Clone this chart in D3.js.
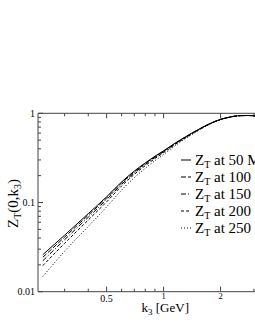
<!DOCTYPE html>
<html>
<head>
<meta charset="utf-8">
<script src="https://cdn.jsdelivr.net/npm/d3@7"></script>
<style>
  body { margin: 0; background: #fff; }
  svg { display: block; font-family: "Liberation Serif", "Times New Roman", serif; }
</style>
</head>
<body>
<script>
// momentum values (GeV)
const k3 = [0.23, 0.3, 0.4, 0.5, 0.6, 0.7, 0.8, 0.9, 1.0, 1.2, 1.4, 1.6, 1.8, 2.0, 2.2, 2.5, 2.8, 3.2];

// Z_T(0,k3) at different temperatures
const z50  = [0.026, 0.043, 0.075, 0.116, 0.170, 0.225, 0.278, 0.330, 0.380, 0.490, 0.595, 0.695, 0.785, 0.855, 0.900, 0.940, 0.945, 0.925];
const z100 = [0.0243, 0.0409, 0.0721, 0.1124, 0.1658, 0.2205, 0.2733, 0.3254, 0.3758, 0.4866, 0.592, 0.693, 0.784, 0.855, 0.900, 0.940, 0.945, 0.925];
const z150 = [0.0222, 0.0383, 0.0684, 0.1078, 0.160, 0.2147, 0.2674, 0.3194, 0.370, 0.4817, 0.588, 0.690, 0.782, 0.853, 0.899, 0.940, 0.945, 0.925];
const z200 = [0.0196, 0.0349, 0.0637, 0.1017, 0.153, 0.2068, 0.259, 0.311, 0.3625, 0.475, 0.583, 0.686, 0.779, 0.852, 0.898, 0.939, 0.944, 0.925];
const z250 = [0.0148, 0.0284, 0.054, 0.0893, 0.1377, 0.190, 0.242, 0.294, 0.346, 0.461, 0.571, 0.678, 0.773, 0.848, 0.896, 0.938, 0.944, 0.925];

const temps = ["50 MeV", "100 MeV", "150 MeV", "200 MeV", "250 MeV"];
const dashes = [null, "5,2", "5,2,1,2", "3,2", "1,2"];
const xMajor = [0.5, 1, 2];
const xMinor = [0.3, 0.4, 0.6, 0.7, 0.8, 0.9, 3];
const yMajor = [0.01, 0.1, 1];

const series = [z50, z100, z150, z200, z250].map((vals, i) => ({
    name: temps[i],
    dash: dashes[i],
    points: k3.map((k, j) => ({ k, z: vals[j] }))
}));

const width = 255, height = 330;
const plotLeft = 38, plotTop = 113.3, plotBottom = 291.7;

const x = d3.scaleLog().domain([0.217, 3.5]).range([plotLeft, plotLeft + Math.log10(3.5 / 0.217) * 189.3]);
const y = d3.scaleLog().domain([0.01, 1]).range([plotBottom, plotTop]);

const svg = d3.select("body").append("svg")
    .attr("width", width)
    .attr("height", height);

const axisColor = "#444";

// y minor ticks (2..9 in each decade)
const yMinor = [];
[0.01, 0.1].forEach(d => { for (let m = 2; m <= 9; m++) yMinor.push(d * m); });

const frame = svg.append("g").attr("stroke", axisColor).attr("stroke-width", 1);
frame.append("line").attr("x1", plotLeft).attr("x2", width).attr("y1", plotTop).attr("y2", plotTop);
frame.append("line").attr("x1", plotLeft).attr("x2", width).attr("y1", plotBottom).attr("y2", plotBottom);
frame.append("line").attr("x1", plotLeft).attr("x2", plotLeft).attr("y1", plotTop).attr("y2", plotBottom);

// x ticks, bottom and top, pointing inward
frame.selectAll(".xmaj").data(xMajor).join("g").each(function(d) {
    const g = d3.select(this);
    g.append("line").attr("x1", x(d)).attr("x2", x(d)).attr("y1", plotBottom).attr("y2", plotBottom - 5);
    g.append("line").attr("x1", x(d)).attr("x2", x(d)).attr("y1", plotTop).attr("y2", plotTop + 5);
});
frame.selectAll(".xmin").data(xMinor).join("g").each(function(d) {
    const g = d3.select(this);
    g.append("line").attr("x1", x(d)).attr("x2", x(d)).attr("y1", plotBottom).attr("y2", plotBottom - 3);
    g.append("line").attr("x1", x(d)).attr("x2", x(d)).attr("y1", plotTop).attr("y2", plotTop + 3);
});

// y ticks
frame.selectAll(".ymaj").data(yMajor).join("line")
    .attr("x1", plotLeft).attr("x2", plotLeft + 5)
    .attr("y1", d => y(d)).attr("y2", d => y(d));
frame.selectAll(".ymin").data(yMinor).join("line")
    .attr("x1", plotLeft).attr("x2", plotLeft + 3)
    .attr("y1", d => y(d)).attr("y2", d => y(d));

// tick labels
svg.append("g").selectAll("text").data(xMajor).join("text")
    .attr("x", d => x(d))
    .attr("y", d => d < 1 ? plotBottom + 10 : plotBottom + 7.5)
    .attr("text-anchor", "middle")
    .attr("font-size", d => d < 1 ? 10 : 8.5)
    .text(d => d);

svg.append("g").selectAll("text").data(yMajor).join("text")
    .attr("x", plotLeft - 3).attr("y", d => y(d) + 3.5)
    .attr("text-anchor", "end")
    .attr("font-size", 10)
    .text(d => d);

// axis titles
const xt = svg.append("text")
    .attr("x", x(1.02)).attr("y", plotBottom + 20.5)
    .attr("text-anchor", "middle")
    .attr("font-size", 13);
xt.append("tspan").text("k");
xt.append("tspan").attr("font-size", 9).attr("dy", 3).text("3");
xt.append("tspan").attr("dy", -3).text(" [GeV]");

const yt = svg.append("text")
    .attr("transform", `translate(18,${y(0.1) + 1}) rotate(-90)`)
    .attr("text-anchor", "middle")
    .attr("font-size", 15);
yt.append("tspan").text("Z");
yt.append("tspan").attr("font-size", 10).attr("dy", 3).text("T");
yt.append("tspan").attr("dy", -3).text("(0,k");
yt.append("tspan").attr("font-size", 10).attr("dy", 3).text("3");
yt.append("tspan").attr("dy", -3).text(")");

// curves
svg.append("defs").append("clipPath").attr("id", "plot")
    .append("rect").attr("x", plotLeft).attr("y", plotTop).attr("width", width - plotLeft).attr("height", plotBottom - plotTop);

const line = d3.line()
    .x(d => x(d.k))
    .y(d => y(d.z))
    .curve(d3.curveMonotoneX);

svg.append("g").attr("clip-path", "url(#plot)")
    .selectAll("path").data(series).join("path")
    .attr("fill", "none")
    .attr("stroke", "#000")
    .attr("stroke-width", 1)
    .attr("stroke-dasharray", d => d.dash)
    .attr("d", d => line(d.points));

// legend
const legend = svg.append("g").selectAll("g").data(series).join("g")
    .attr("transform", (d, i) => `translate(181,${160 + i * 17})`);
legend.append("line")
    .attr("x1", 0).attr("x2", 10)
    .attr("stroke", "#000").attr("stroke-width", 1)
    .attr("stroke-dasharray", d => d.dash);
const lt = legend.append("text").attr("x", 14).attr("y", 4.5).attr("font-size", 15);
lt.append("tspan").text("Z");
lt.append("tspan").attr("font-size", 10).attr("dy", 3).text("T");
lt.append("tspan").attr("dy", -3).text(d => " at " + d.name);
</script>
</body>
</html>
